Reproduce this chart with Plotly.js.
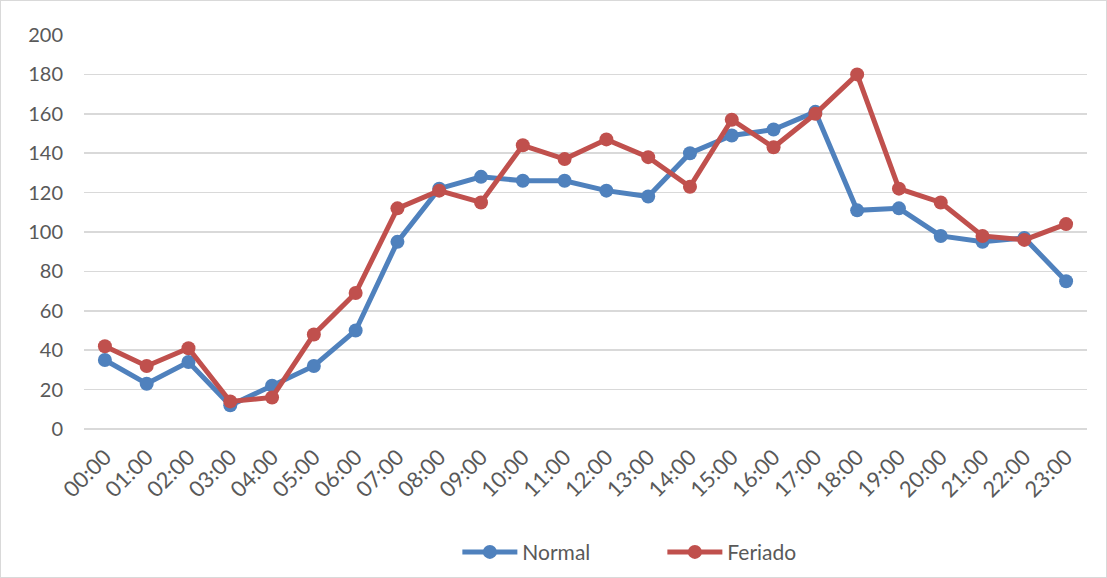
<!DOCTYPE html>
<html>
<head>
<meta charset="utf-8">
<script src="https://cdn.plot.ly/plotly-3.0.1.min.js"></script>
<style>
  html, body { margin: 0; padding: 0; background: #ffffff; }
  #chart { width: 1105px; height: 576px; border: 1px solid #D9D9D9; }
</style>
</head>
<body>
<div id="chart"></div>
<script>
const hours = ["00:00","01:00","02:00","03:00","04:00","05:00","06:00","07:00","08:00","09:00","10:00","11:00",
               "12:00","13:00","14:00","15:00","16:00","17:00","18:00","19:00","20:00","21:00","22:00","23:00"];
const normal = [35, 23, 34, 12, 22, 32, 50, 95, 122, 128, 126, 126, 121, 118, 140, 149, 152, 161, 111, 112, 98, 95, 97, 75];
const feriado = [42, 32, 41, 14, 16, 48, 69, 112, 121, 115, 144, 137, 147, 138, 123, 157, 143, 160, 180, 122, 115, 98, 96, 104];
const yTicks = [0, 20, 40, 60, 80, 100, 120, 140, 160, 180, 200];

const fam = "Lato, 'Open Sans', sans-serif";
const tickFont = {family: fam, size: 20, color: "#595959"};

const traces = [
  {x: hours, y: normal, name: "Normal", type: "scatter", mode: "lines+markers",
   line: {color: "#4F81BD", width: 5}, marker: {color: "#4F81BD", size: 14}},
  {x: hours, y: feriado, name: "Feriado", type: "scatter", mode: "lines+markers",
   line: {color: "#C0504D", width: 5}, marker: {color: "#C0504D", size: 14}}
];

const layout = {
  width: 1105, height: 576,
  margin: {l: 83, r: 19, t: 34, b: 148, pad: 0},
  paper_bgcolor: "#ffffff", plot_bgcolor: "#ffffff",
  font: tickFont,
  showlegend: true,
  legend: {orientation: "h", xref: "container", yref: "container",
           x: 0.413, xanchor: "left", y: 0.043, yanchor: "middle",
           font: {family: fam, size: 21, color: "#595959"},
           itemwidth: 55,
           entrywidth: 135, entrywidthmode: "pixels", tracegroupgap: 0},
  xaxis: {type: "category", tickangle: -45, showgrid: false, zeroline: false,
          showline: false, ticks: "", tickfont: {family: fam, size: 22, color: "#595959"},
          ticklabelstandoff: 10,
          range: [-0.5, 23.5], automargin: false},
  yaxis: {range: [0, 200], tickvals: yTicks, ticktext: yTicks.map(String),
          showgrid: true, gridcolor: "#D9D9D9", gridwidth: 1.5, zeroline: true,
          zerolinecolor: "#D9D9D9", zerolinewidth: 1.5, showline: false, ticks: "",
          ticklabelstandoff: 20, tickfont: tickFont, automargin: false}
};

Plotly.newPlot("chart", traces, layout, {displayModeBar: false, staticPlot: true});
</script>
</body>
</html>
